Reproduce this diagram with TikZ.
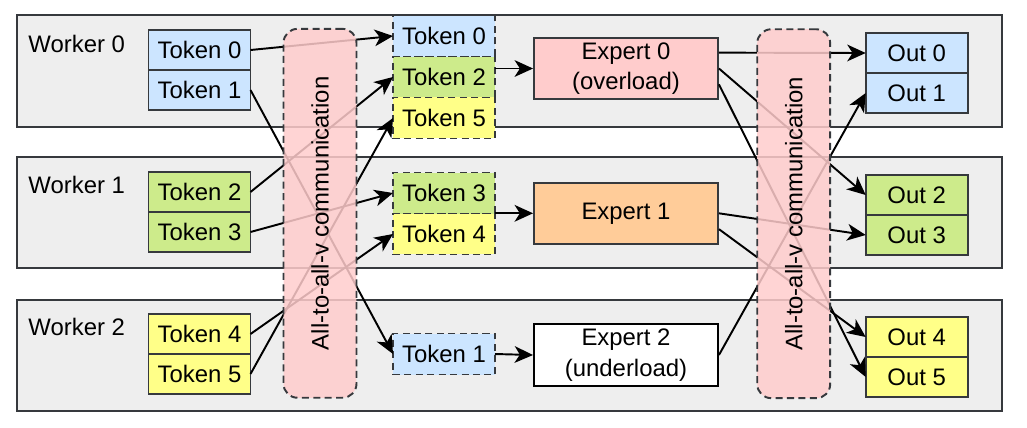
\documentclass[tikz,border=0pt]{standalone}
\usepackage{fontspec}
\setmainfont{Liberation Sans}
\usepackage{tikz}
\usetikzlibrary{arrows.meta, positioning, calc}
\definecolor{edgegray}{RGB}{54, 57, 61}
\definecolor{bggray}{RGB}{238, 238, 238}
\definecolor{tokblue}{RGB}{204, 229, 255}
\definecolor{tokgreen}{RGB}{205, 235, 139}
\definecolor{tokyellow}{RGB}{255, 255, 136}
\definecolor{loadpink}{RGB}{255, 204, 204}
\definecolor{loadorange}{RGB}{255, 204, 153}

\begin{document}
\begin{tikzpicture}[
    x=0.02cm, y=-0.02cm,
    font=\fontsize{13.6}{17.5}\selectfont,
    worker/.style={rectangle, draw=edgegray, fill=bggray, line width=1.1pt, minimum width=19.7cm, minimum height=2.23cm, inner sep=0pt, outer sep=0pt},
    token/.style={rectangle, draw=edgegray, line width=1.1pt, minimum width=2.04cm, minimum height=0.8cm, inner sep=0pt, outer sep=0pt},
    sent/.style={token, dash pattern=on 4pt off 2.5pt, minimum height=0.82cm},
    expert/.style={rectangle, draw=edgegray, line width=1.1pt, minimum width=3.68cm, minimum height=1.23cm, align=center, inner sep=0pt},
    comm/.style={rectangle, draw=edgegray, fill=loadpink, fill opacity=0.85, text opacity=1, dash pattern=on 4pt off 2.5pt, line width=1.1pt, rounded corners=8pt, minimum width=1.46cm, minimum height=7.38cm, inner sep=0pt},
    arrow/.style={-{Stealth[length=10.5pt, width=9.5pt, inset=3pt]}, line width=1.1pt}
]
\useasboundingbox (0,0) rectangle (1027,427);

% Workers
\node[worker] (wk0) at (509.5,71) {};
\node[worker] (wk1) at (509.5,212.5) {};
\node[worker] (wk2) at (509.5,355.5) {};
\node[anchor=west, inner sep=0pt] (wk0lbl) at ($(wk0.north west)+(11,29)$) {Worker 0};
\node[anchor=west, inner sep=0pt] (wk1lbl) at ($(wk1.north west)+(11,28)$) {Worker 1};
\node[anchor=west, inner sep=0pt] (wk2lbl) at ($(wk2.north west)+(11,27)$) {Worker 2};

% Local tokens
\node[token, fill=tokblue] (tok0) at (199.5,50) {Token 0};
\node[token, fill=tokblue, below=0pt of tok0] (tok1) {Token 1};
\node[token, fill=tokgreen] (tok2) at (199.5,192) {Token 2};
\node[token, fill=tokgreen, below=0pt of tok2] (tok3) {Token 3};
\node[token, fill=tokyellow] (tok4) at (199.5,334) {Token 4};
\node[token, fill=tokyellow, below=0pt of tok4] (tok5) {Token 5};

% Dispatched tokens
\node[sent, fill=tokblue] (dtok0) at (444,36) {Token 0};
\node[sent, fill=tokgreen, below=0pt of dtok0] (dtok2) {Token 2};
\node[sent, fill=tokyellow, below=0pt of dtok2] (dtok5) {Token 5};
\node[sent, fill=tokgreen] (dtok3) at (444,193) {Token 3};
\node[sent, fill=tokyellow, below=0pt of dtok3] (dtok4) {Token 4};
\node[sent, fill=tokblue] (dtok1) at (444,354) {Token 1};

% Experts
\node[expert, fill=loadpink] (exp0) at (626,68.5) {Expert 0\\(overload)};
\node[expert, fill=loadorange] (exp1) at (626,213.3) {Expert 1};
\node[expert, fill=white, draw=black] (exp2) at (626,355) {Expert 2\\(underload)};

% Outputs
\node[token, fill=tokblue] (out0) at (916.7,53) {Out 0};
\node[token, fill=tokblue, below=0pt of out0] (out1) {Out 1};
\node[token, fill=tokgreen] (out2) at (916.7,195) {Out 2};
\node[token, fill=tokgreen, below=0pt of out2] (out3) {Out 3};
\node[token, fill=tokyellow] (out4) at (916.7,337) {Out 4};
\node[token, fill=tokyellow, below=0pt of out4] (out5) {Out 5};

% Dispatch
\draw[arrow] (tok0.east) -- (dtok0.west);
\draw[arrow] (tok1.east) -- (dtok1.west);
\draw[arrow] (tok2.east) -- (dtok2.west);
\draw[arrow] (tok3.east) -- (dtok3.west);
\draw[arrow] (tok4.east) -- (dtok4.west);
\draw[arrow] (tok5.east) -- (dtok5.west);

% Compute
\draw[arrow] (dtok2.east |- exp0.west) -- (exp0.west);
\draw[arrow] (dtok3.east |- exp1.west) -- (exp1.west);
\draw[arrow] (dtok1.east) -- (exp2.west);

% Combine
\draw[arrow] ($(exp0.north east)!0.25!(exp0.south east)$) -- (out0.west);
\draw[arrow] (exp0.east) -- (out2.west);
\draw[arrow] ($(exp0.north east)!0.75!(exp0.south east)$) -- (out5.west);
\draw[arrow] (exp1.east) -- (out3.west);
\draw[arrow] ($(exp1.north east)!0.75!(exp1.south east)$) -- (out4.west);
\draw[arrow] (exp2.east) -- (out1.west);

% All-to-all layers
\node[comm] (comm1) at (320,213.3) {\rotatebox{90}{All-to-all-v communication}};
\node[comm] (comm2) at (793.7,213.7) {\rotatebox{90}{All-to-all-v communication}};

\end{tikzpicture}
\end{document}
